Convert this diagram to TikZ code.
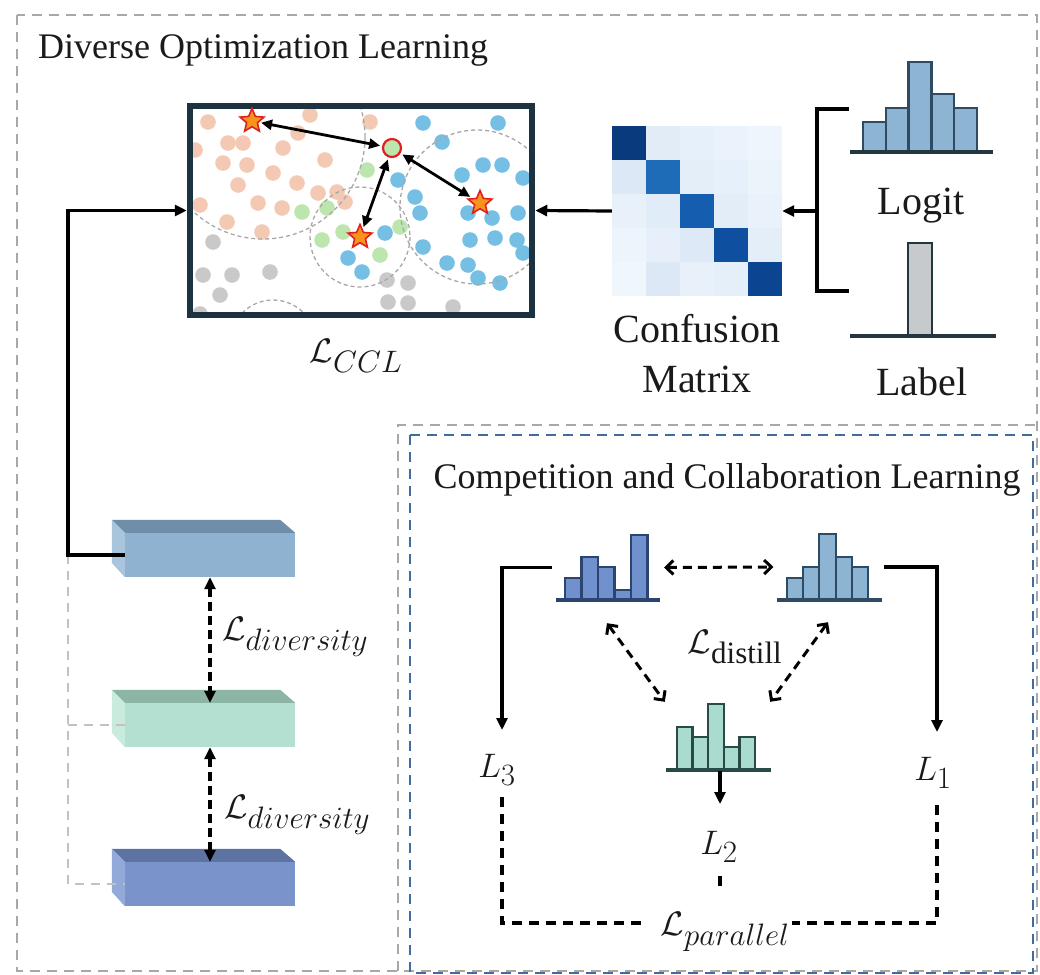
\RequirePackage{fix-cm}
\documentclass[tikz,border=0pt]{standalone}
\usepackage{fontspec}
\setmainfont{Liberation Serif}
\usetikzlibrary{arrows.meta,shapes.geometric}
\DeclareMathSizes{34}{34}{31}{24}
\definecolor{frame}{HTML}{1B3240}
\definecolor{dor}{HTML}{F4C9B3}
\definecolor{dgr}{HTML}{BDE5AE}
\definecolor{dbl}{HTML}{74BFE3}
\definecolor{dgy}{HTML}{C9C9C9}
\definecolor{hAf}{HTML}{7090CE}\definecolor{hAe}{HTML}{2B4570}
\definecolor{hBf}{HTML}{8EB4D3}\definecolor{hBe}{HTML}{2F4A63}
\definecolor{hCf}{HTML}{A9DCCF}\definecolor{hCe}{HTML}{2A4A48}
\definecolor{lbf}{HTML}{C6CACD}\definecolor{lbe}{HTML}{243640}
\definecolor{bAf}{HTML}{8EB2D0}\definecolor{bAt}{HTML}{6F8EAA}\definecolor{bAs}{HTML}{A9C5DE}
\definecolor{bBf}{HTML}{B3E0D1}\definecolor{bBt}{HTML}{8DB5A6}\definecolor{bBs}{HTML}{C8EBDD}
\definecolor{bCf}{HTML}{7A94CB}\definecolor{bCt}{HTML}{5D74A3}\definecolor{bCs}{HTML}{93AAD8}
\definecolor{gdash}{HTML}{A8A8A8}
\definecolor{bdash}{HTML}{3F6E9E}
\definecolor{txt}{HTML}{1A1A1A}
\definecolor{starf}{HTML}{F7941D}\definecolor{stare}{HTML}{E02020}
\newcommand\bigtxt{\fontsize{40}{50}\selectfont}
\newcommand\ttltxt{\fontsize{36}{42}\selectfont}
\newcommand\mtxt{\fontsize{34}{40}\selectfont}
\newcommand\myhist[5]{\foreach \h [count=\i] in {#4} {\draw[#5] ({#1+(\i-1)*#3},#2) rectangle ++(#3,-\h);}}
\begin{document}
\begin{tikzpicture}[x=1pt,y=-1pt,
  conn/.style={line width=3.2pt, draw=black},
  arr/.style={conn, -{Triangle[length=12pt,width=11pt]}},
  darr/.style={line width=3.2pt, dash pattern=on 9pt off 5pt, {Triangle[length=12pt,width=11pt]}-{Triangle[length=12pt,width=11pt]}},
  oarr/.style={line width=3pt, dash pattern=on 9pt off 6pt, {Straight Barb[length=7pt,width=14pt]}-{Straight Barb[length=7pt,width=14pt]}},
  sarr/.style={line width=2.8pt, {Triangle[length=11pt,width=10pt]}-{Triangle[length=11pt,width=10pt]}, shorten <=2pt, shorten >=2pt},
  lbl/.style={text=txt, inner sep=0pt},
  dot/.style={radius=7.8},
  gbox/.style={draw=gdash, line width=2.2pt, dash pattern=on 10pt off 7pt},
  bbox/.style={draw=bdash, line width=2.6pt, dash pattern=on 10pt off 7pt},
  hstar/.style={star, star points=5, star point ratio=2.2, fill=starf, draw=stare, line width=1.6pt, minimum size=25pt, inner sep=0pt},
  ghost/.style={inner sep=0pt, minimum width=#1},
]
\useasboundingbox (0,0) rectangle (1040,974);
\fill[white] (0,0) rectangle (1040,974);
% panels
\draw[gbox] (17,15) rectangle (1037,971);
\draw[gbox] (398,971) -- (398,425) -- (1037,425);
\draw[bbox] (410,435) rectangle (1033,973);
\node[lbl, anchor=west] (t1) at (38,50) {\ttltxt Diverse Optimization Learning};
\node[lbl] (t2) at (727,480) {\ttltxt Competition and Collaboration Learning};

% scatter box content
\begin{scope}
\clip (193,109) rectangle (529,312);
\foreach \p in {(208,122),(228,143),(243,143),(283,148),(298,133),(310,115),(223,163),(247,165),(273,173),(297,183),(325,160),(238,185),(258,203),(282,208),(200,205),(227,222),(262,232),(318,193),(345,202),(370,122),(337,192),(195,150)}
  \fill[dor] \p circle[dot];
\foreach \p in {(367,170),(302,212),(327,208),(343,232),(322,240),(380,255),(400,227)}
  \fill[dgr] \p circle[dot];
\foreach \p in {(423,123),(498,123),(442,142),(483,165),(502,165),(523,178),(462,175),(398,180),(415,197),(420,213),(468,213),(492,218),(518,213),(470,240),(495,238),(517,240),(523,253),(423,247),(447,263),(468,265),(478,278),(500,283),(385,233),(348,258),(362,272)}
  \fill[dbl] \p circle[dot];
\foreach \p in {(213,242),(203,275),(232,275),(270,272),(220,295),(387,280),(408,283),(388,302),(408,303),(453,307),(200,314)}
  \fill[dgy] \p circle[dot];
\draw[gdash, line width=1.3pt, dash pattern=on 4pt off 3pt] (263,137) circle[radius=102];
\draw[gdash, line width=1.3pt, dash pattern=on 4pt off 3pt] (360,237) circle[radius=50];
\draw[gdash, line width=1.3pt, dash pattern=on 4pt off 3pt] (477,207) circle[radius=77];
\draw[gdash, line width=1.3pt, dash pattern=on 4pt off 3pt] (273,343) circle[radius=43];
\end{scope}
\node[draw=frame, line width=6.5pt, minimum width=342pt, minimum height=209pt, inner sep=0pt] (box) at (361,210.5) {};
\node[hstar] (s1) at (252,121) {};
\node[hstar] (s2) at (360,237) {};
\node[hstar] (s3) at (480,203) {};
\node[circle, fill=dgr, draw=stare, line width=2.2pt, minimum size=18pt, inner sep=0pt] (cc) at (392,148) {};
\draw[sarr] (s1) -- (cc);
\draw[sarr] (cc) -- (s2);
\draw[sarr] (cc) -- (s3);
\node[lbl] (lccl) at (356,356) {\mtxt $\mathcal{L}_{CCL}$};

% confusion matrix
\node[inner sep=0pt, minimum width=170pt, minimum height=170pt] (cm) at (697,211) {};
\foreach \row [count=\r from 0] in {
  {0A3A7E,E1ECF7,E6F0FA,EAF3FB,EEF5FC},
  {DCE8F5,1E6BB8,E3EEF9,E6F0FA,EBF3FB},
  {E8F1FA,E0ECF8,155DAE,E2EDF8,E9F2FB},
  {ECF4FC,E7F0FA,DDE9F6,0F4FA0,E4EEF9},
  {EFF6FC,DCE8F5,E8F1FA,E5EFF9,0B4490}}{
  \foreach \c [count=\k from 0] in \row {
    \definecolor{cmc}{HTML}{\c}
    \fill[cmc] ({612+\k*34},{126+\r*34}) rectangle ++(34,34);
  }}
\node[lbl, align=center, font=\bigtxt] (cmt) at (697,354) {Confusion\\Matrix};
\draw[arr] (cm.west) -- (box.east);

% logit & label
\myhist{863}{152}{22.8}{30,44,90,58,44}{fill=hBf, draw=hBe, line width=2.4pt}
\draw[line width=3.4pt, draw=lbe] (850,152) -- (993,152);
\node[lbl] (logit) at (921,206) {\bigtxt Logit};
\draw[fill=lbf, draw=lbe, line width=2.4pt] (908,336) rectangle (932,243);
\draw[line width=3.4pt, draw=lbe] (850,336) -- (996,336);
\node[lbl] (label) at (922,382) {\bigtxt Label};
\coordinate (lgA) at (849,109);
\coordinate (lgB) at (849,291);
\coordinate (brm) at (817,211);
\draw[conn] (lgA) -- (817,109) -- (817,291) -- (lgB);
\draw[arr] (brm) -- (cm.east);

% blocks
\foreach \nm/\cy/\cf/\ct/\cs in {b1/555/bAf/bAt/bAs, b2/725/bBf/bBt/bBs, b3/884/bCf/bCt/bCs}{
  \node[fill=\cf, inner sep=0pt, minimum width=170pt, minimum height=44pt] (\nm) at (210,\cy) {};
  \fill[\ct] (\nm.north west) -- ++(-13,-13) -- ([xshift=-15pt,yshift=13pt]\nm.north east) -- (\nm.north east) -- cycle;
  \fill[\cs] (\nm.north west) -- ++(-13,-13) -- ++(0,43) -- (\nm.south west) -- cycle;
}
\coordinate (jn) at (68,555);
\draw[gdash!70, line width=2.2pt, dash pattern=on 9pt off 7pt] (jn) -- (68,884) -- (b3.west);
\draw[gdash!70, line width=2.2pt, dash pattern=on 9pt off 7pt] (68,725) -- (b2.west);
\draw[arr] (b1.west) -- (jn) |- (box.west);
\draw[darr] (b1.south) -- (b2.north);
\draw[darr] (b2.south) -- (b3.north);
\node[lbl, anchor=west] (ld1) at (222,637) {\mtxt $\mathcal{L}_{diversity}$};
\node[lbl, anchor=west] (ld2) at (224,815) {\mtxt $\mathcal{L}_{diversity}$};

% competition histograms
\node[ghost=104pt, minimum height=65pt] (hA) at (608,567.5) {};
\node[ghost=105pt, minimum height=66pt] (hB) at (829,567) {};
\node[ghost=105pt, minimum height=66pt] (hC) at (718.5,737) {};
\myhist{565}{600}{16.5}{22.3,42.7,32.7,10,65}{fill=hAf, draw=hAe, line width=2.2pt}
\draw[line width=3.2pt, draw=hAe] (556,600) -- (660,600);
\myhist{786.7}{600}{16.3}{22.3,32.7,66,43.3,32.7}{fill=hBf, draw=hBe, line width=2.2pt}
\draw[line width=3.2pt, draw=hBe] (776.7,600) -- (881.7,600);
\myhist{676.7}{770}{15.7}{43.3,33.3,66,22.7,33.3}{fill=hCf, draw=hCe, line width=2.2pt}
\draw[line width=3.2pt, draw=hCe] (666,770) -- (771,770);
\draw[oarr] ([xshift=4pt]hA.east) -- ([xshift=-3pt]hB.east -| hB.west);
\draw[oarr] ([xshift=-1pt,yshift=-23pt]hA.south) -- ([xshift=-1pt,yshift=2pt]hC.north west);
\draw[oarr] ([xshift=-1pt,yshift=-22pt]hB.south) -- ([xshift=-1pt,yshift=2pt]hC.north east);
\node[lbl] (ldis) at (735,647) {\mtxt $\mathcal{L}_{\mathrm{distill}}$};

\node[lbl] (L3) at (497,770) {\mtxt $L_3$};
\node[lbl] (L1) at (933,773) {\mtxt $L_1$};
\node[lbl] (L2) at (719,847) {\mtxt $L_2$};
\coordinate (c3) at (502,730);
\coordinate (c1) at (937,732);
\coordinate (c2) at (720,804);
\draw[arr] ([xshift=-4pt]hA.west) -| (c3);
\draw[arr] ([xshift=2pt]hB.east) -| (c1);
\draw[arr] (720,771) -- (c2);
\node[lbl] (lpar) at (725,932) {\mtxt $\mathcal{L}_{parallel}$};
\coordinate (p3) at (502,797);
\coordinate (p1) at (937,805);
\coordinate (p2) at (720,876);
\draw[line width=3.2pt, dash pattern=on 10pt off 7pt] (p3) |- ([xshift=-14pt,yshift=9pt]lpar.west);
\draw[line width=3.2pt, dash pattern=on 10pt off 7pt] (p1) |- ([xshift=2pt,yshift=9pt]lpar.east);
\draw[line width=3.2pt] (p2) -- ++(0,10);
\end{tikzpicture}
\end{document}
